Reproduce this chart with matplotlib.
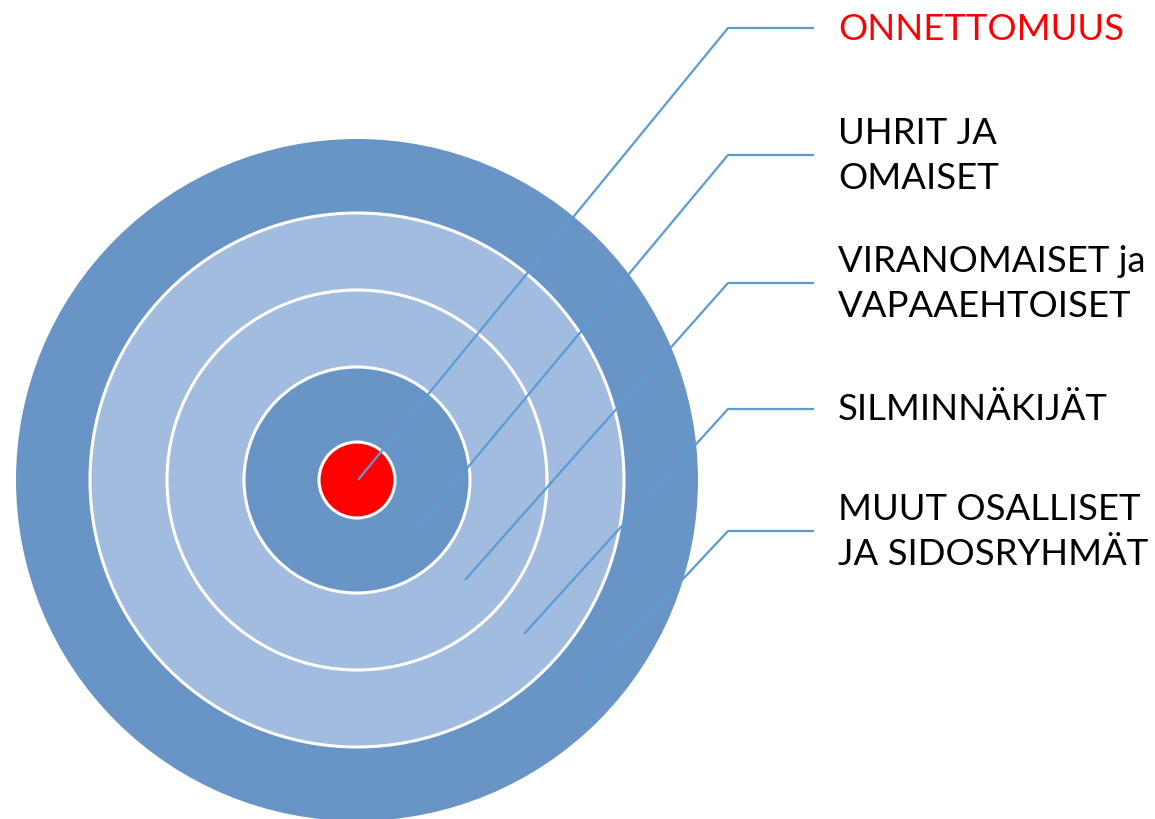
import matplotlib
matplotlib.use("Agg")
import matplotlib.pyplot as plt
from matplotlib.patches import Circle

# rings (pixel units, centre of target)
center = (357, 480)
ring_radii = [341, 267, 190, 113, 38]
ring_colors = ["#6895C5", "#A1BCDF", "#A1BCDF", "#6895C5", "#FF0000"]
ring_edges = ["none", "white", "white", "white", "white"]

# leader lines: start point inside ring, knee, end of horizontal part
labels = ["ONNETTOMUUS", "UHRIT JA\nOMAISET", "VIRANOMAISET ja\nVAPAAEHTOISET",
          "SILMINNÄKIJÄT", "MUUT OSALLISET\nJA SIDOSRYHMÄT"]
label_colors = ["#FF0000", "black", "black", "black", "black"]
start_x = [358, 414, 465, 524, 580]
start_y = [480, 532, 580, 634, 689]
label_y = [28, 155, 283, 409, 531]
knee_x = 728
end_x = 814
text_x = 838

fig = plt.figure(figsize=(11.55, 8.19), dpi=100)
ax = fig.add_axes([0, 0, 1, 1])
ax.set_xlim(0, 1155)
ax.set_ylim(819, 0)
ax.set_aspect("equal")
ax.axis("off")

for r, c, e in zip(ring_radii, ring_colors, ring_edges):
    ax.add_patch(Circle(center, r, facecolor=c, edgecolor=e, lw=2.2, zorder=1))

for sx, sy, ly, lab, lc in zip(start_x, start_y, label_y, labels, label_colors):
    ax.plot([sx, knee_x, end_x], [sy, ly, ly], color="#5B9BD5", lw=1.6,
            solid_capstyle="butt", zorder=3)
    ax.text(text_x, ly + 1, lab, color=lc, fontsize=26.3, family="Lato",
            ha="left", va="center", linespacing=1.45, zorder=4)

fig.savefig("out.png", dpi=100)
